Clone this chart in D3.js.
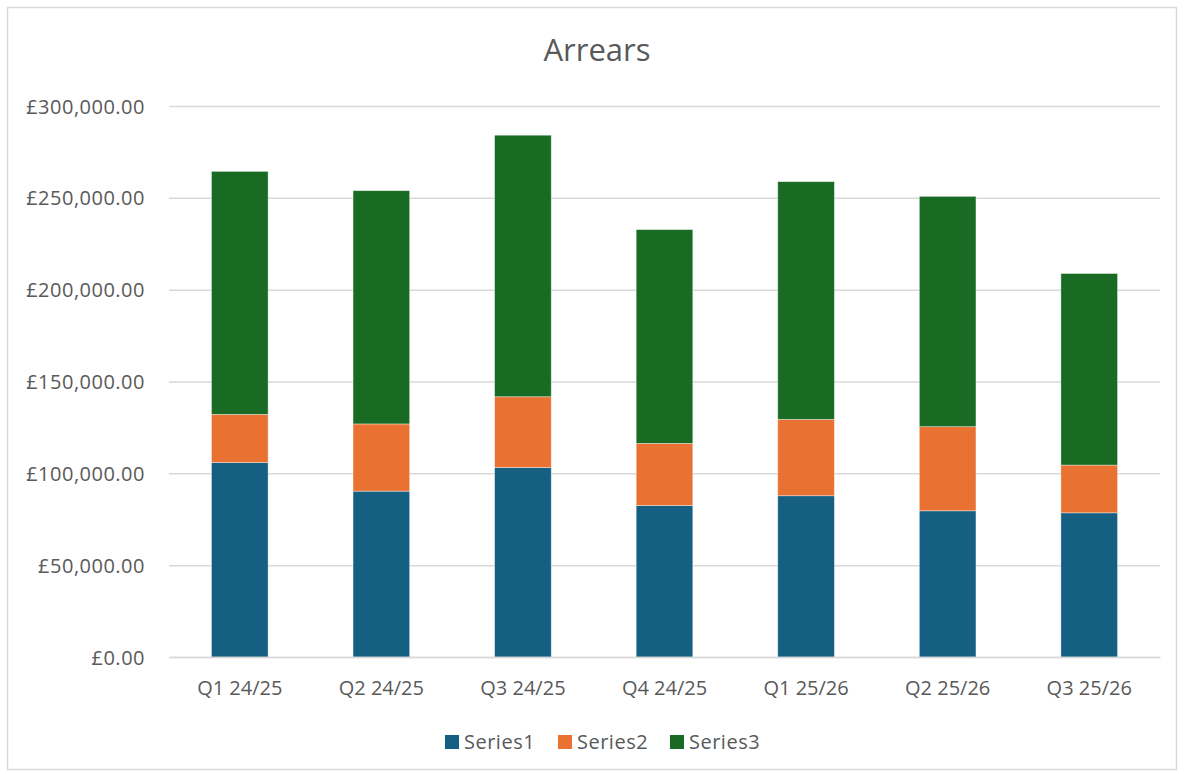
<!DOCTYPE html>
<html><head><meta charset="utf-8">
<script src="https://cdn.jsdelivr.net/npm/d3@7"></script>
<style>body{margin:0;background:#fff;} text{font-family:"Open Sans","Liberation Sans",Arial,sans-serif;}</style>
</head><body><svg id="c" width="1184" height="774"></svg>
<script>
const categories = ["Q1 24/25","Q2 24/25","Q3 24/25","Q4 24/25","Q1 25/26","Q2 25/26","Q3 25/26"];
const seriesNames = ["Series1","Series2","Series3"];
const series1 = [105900, 90300, 103200, 82500, 87800, 79600, 78500];
const series2 = [26200, 36600, 38500, 33800, 41600, 45800, 26000];
const series3 = [132300, 127000, 142400, 116400, 129400, 125400, 104300];
const yTicks = [0, 50000, 100000, 150000, 200000, 250000, 300000];
const colors = ["#156082", "#E97132", "#196B24"];

const svg = d3.select("#c");
svg.append("rect").attr("x",7.5).attr("y",7.5).attr("width",1169).attr("height",762)
  .attr("fill","#fff").attr("stroke","#d9d9d9").attr("stroke-width",1.5);

const x = d3.scaleBand().domain(categories).range([169,1160]).paddingInner(0.6).paddingOuter(0.3);
const y = d3.scaleLinear().domain([0,300000]).range([657,106]);

svg.append("text").attr("x",597).attr("y",61).attr("text-anchor","middle")
  .attr("font-size",31).attr("fill","#595959").text("Arrears");

const fmt = v => "£" + d3.format(",.2f")(v);
const yAxis = svg.append("g").attr("transform","translate(169,0)")
  .call(d3.axisLeft(y).tickValues(yTicks).tickFormat(fmt).tickSize(-991).tickPadding(24));
yAxis.select(".domain").remove();
yAxis.selectAll("line").attr("stroke","#d9d9d9").attr("stroke-width",1.5);
yAxis.selectAll("text").attr("font-size",20).attr("letter-spacing",0.5).attr("fill","#595959").attr("dy","0.35em");

const rows = categories.map((c,i)=>({cat:c, Series1:series1[i], Series2:series2[i], Series3:series3[i]}));
const stack = d3.stack().keys(seriesNames)(rows);
svg.append("g").selectAll("g").data(stack).join("g").attr("fill",(d,i)=>colors[i])
  .selectAll("rect").data(d=>d).join("rect")
  .attr("x",d=>x(d.data.cat)).attr("width",x.bandwidth())
  .attr("y",d=>y(d[1])).attr("height",d=>y(d[0])-y(d[1]))
  .attr("stroke","#ffffff").attr("stroke-opacity",0.5).attr("stroke-width",0.75);

const xAxis = svg.append("g").attr("transform","translate(0,657)")
  .call(d3.axisBottom(x).tickSize(0).tickPadding(24));
xAxis.select(".domain").attr("stroke","#d9d9d9").attr("stroke-width",1.5);
xAxis.selectAll("text").attr("font-size",20).attr("fill","#595959");

const legendX = [445, 558, 670];
const lg = svg.append("g");
seriesNames.forEach((s,i)=>{
  lg.append("rect").attr("x",legendX[i]).attr("y",735).attr("width",14).attr("height",14).attr("fill",colors[i]);
  lg.append("text").attr("x",legendX[i]+19).attr("y",742).attr("dy","0.35em")
    .attr("font-size",20).attr("letter-spacing",0.5).attr("fill","#595959").text(s);
});
</script></body></html>
